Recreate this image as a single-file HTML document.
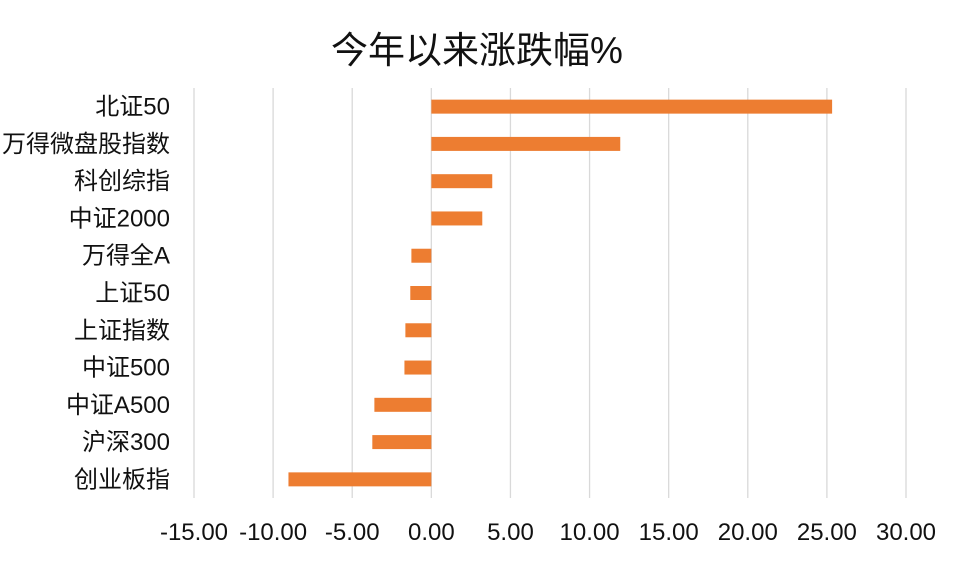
<!DOCTYPE html>
<html><head><meta charset="utf-8">
<style>
html,body{margin:0;padding:0;background:#fff;}
svg{display:block;font-family:"Liberation Sans","Noto Sans CJK SC",sans-serif;}
</style></head>
<body>
<svg id="chart" width="953" height="565">
<text x="477" y="63" text-anchor="middle" font-size="37" fill="#111">今年以来涨跌幅%</text>
<g id="grid"></g><g id="bars"></g><g id="ylabels"></g><g id="xlabels"></g>
</svg>
<script>
const categories = ["北证50","万得微盘股指数","科创综指","中证2000","万得全A","上证50","上证指数","中证500","中证A500","沪深300","创业板指"];
const values = [25.33,11.94,3.85,3.22,-1.26,-1.33,-1.64,-1.70,-3.60,-3.73,-9.03];
const ticks = [-15,-10,-5,0,5,10,15,20,25,30];
const tickLabels = ["-15.00","-10.00","-5.00","0.00","5.00","10.00","15.00","20.00","25.00","30.00"];

const NS="http://www.w3.org/2000/svg";
const x0=194,x1=906,vmin=-15,vmax=30,yTop=88,yBot=498;
const xs=v=>x0+(v-vmin)/(vmax-vmin)*(x1-x0);
const band=(yBot-yTop)/categories.length;
const yc=i=>yTop+band*(i+0.5);
function mk(t,a,p){const e=document.createElementNS(NS,t);for(const k in a)e.setAttribute(k,a[k]);p.appendChild(e);return e;}
const grid=document.getElementById('grid'),bars=document.getElementById('bars'),yl=document.getElementById('ylabels'),xl=document.getElementById('xlabels');
ticks.forEach((t,i)=>{
  const l=mk('line',{x1:xs(t),x2:xs(t),y1:yTop,y2:yBot,stroke:'#d9d9d9','stroke-width':1.3},grid);
  
  
  const tx=mk('text',{x:xs(t),y:540,'text-anchor':'middle','font-size':24,fill:'#111'},xl);
  tx.textContent=tickLabels[i];
  
  
});
categories.forEach((c,i)=>{
  const v=values[i];
  const a=Math.min(xs(0),xs(v)),w=Math.abs(xs(v)-xs(0));
  const r=mk('rect',{x:a,y:yc(i)-7,width:w,height:14,fill:'#ed7d31'},bars);
  
  
  const tx=mk('text',{x:170,y:yc(i)+8,'text-anchor':'end','font-size':24,fill:'#111'},yl);
  tx.textContent=c;
  
  
});
</script>
</body></html>
